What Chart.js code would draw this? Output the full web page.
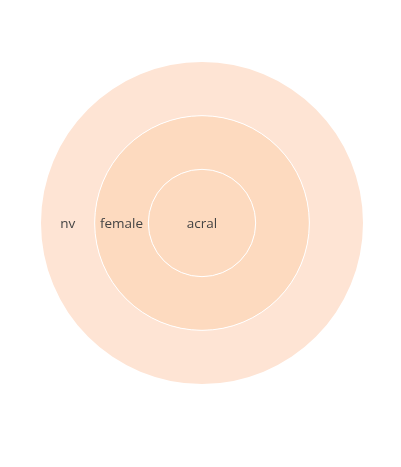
<!DOCTYPE html>
<html>
<head>
<meta charset="utf-8">
<script src="https://cdn.jsdelivr.net/npm/chart.js@4"></script>
<style>
html,body{margin:0;padding:0;background:#fff;}
#wrap{width:401px;height:467px;position:relative;}
</style>
</head>
<body>
<div id="wrap"><canvas id="c" width="401" height="467"></canvas></div>
<script>
// Levels from outer to inner (each node covers the full circle)
const levelLabels = ["nv", "female", "acral"];
const levelValues = [1, 1, 1];
const levelColors = ["rgb(254,228,212)", "rgb(253,218,191)", "rgb(253,218,191)"];

const labelPlugin = {
  id: 'sunLabels',
  afterDatasetsDraw(chart) {
    const ctx = chart.ctx;
    ctx.save();
    // white separators between rings
    chart.data.datasets.forEach((ds, i) => {
      const meta = chart.getDatasetMeta(i);
      meta.data.forEach(el => {
        if (i === 0) return;
        ctx.beginPath();
        ctx.arc(el.x, el.y, el.outerRadius, 0, Math.PI * 2);
        ctx.strokeStyle = '#ffffff';
        ctx.lineWidth = 1;
        ctx.stroke();
      });
    });
    ctx.font = '13.5px "Open Sans", sans-serif';
    ctx.fillStyle = 'rgb(68,68,68)';
    ctx.textAlign = 'center';
    ctx.textBaseline = 'middle';
    chart.data.datasets.forEach((ds, i) => {
      const meta = chart.getDatasetMeta(i);
      meta.data.forEach((el, j) => {
        let x, y;
        if (el.innerRadius < 1) { x = el.x; y = el.y; }
        else { const p = el.tooltipPosition(); x = p.x; y = p.y; }
        ctx.fillText(ds.nodeLabels[j], x, y + 1);
      });
    });
    ctx.restore();
  }
};

new Chart(document.getElementById('c'), {
  type: 'pie',
  data: {
    labels: [""],
    datasets: levelLabels.map((lab, i) => ({
      data: [levelValues[i]],
      nodeLabels: [lab],
      backgroundColor: [levelColors[i]],
      borderWidth: 0
    }))
  },
  options: {
    responsive: false,
    animation: false,
    rotation: 90,
    cutout: 0,
    layout: { padding: { left: 41, top: 62, right: 38, bottom: 83 } },
    plugins: { legend: { display: false }, tooltip: { enabled: false } }
  },
  plugins: [labelPlugin]
});
</script>
</body>
</html>
